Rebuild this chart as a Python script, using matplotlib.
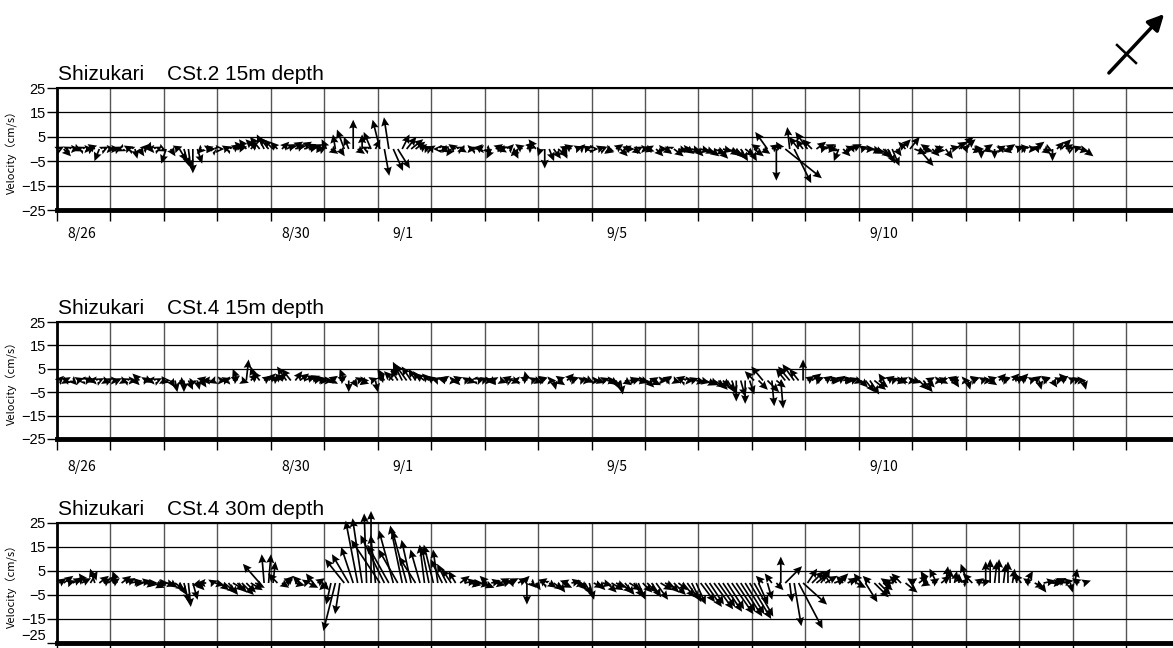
import numpy as np
import matplotlib.pyplot as plt
from matplotlib.patches import FancyArrowPatch
from matplotlib.lines import Line2D

# time axis: days since 8/26 00:00, one vector every 2 hours
T0 = 1.0 / 24
DT = 2.0 / 24

date_days = [0, 4, 6, 10, 15]
date_labels = ['8/26', '8/30', '9/1', '9/5', '9/10']

titles = ['Shizukari    CSt.2 15m depth',
          'Shizukari    CSt.4 15m depth',
          'Shizukari    CSt.4 30m depth']

# CSt.2 15m, components in cm/s (one row per day)
cst2_15m_u = [
    2, 3, -2, 3, 2, -2, 3, 2, -3, -2, 2, 3,
    3, 2, -2, 3, -2, 1, 2, 2, 1, -3, 2, 2,
    -2, 2, 3, 3, 2, 1, 0, 2, -2, 3, 2, 1,
    2, 3, -2, 3, 4, -3, -3, 3, -4, -4, -3, -4,
    -4, -3, 3, 4, 5, 4, 5, 5, 4, 4, 3, 2,
    -2, 3, -1, 2, -3, -2, 0, 3, 0, -2, -3, 2,
    -3, 2, -2, 4, 5, 3, 4, 5, 4, 3, 3, 2,
    -3, -2, 3, -3, -2, -3, 2, -3, 3, -2, 2, -3,
    2, -2, 3, 3, -3, 2, 2, -3, -3, 3, -2, -3,
    -1, 0, 2, 3, 4, 2, -3, -3, 3, 2, 3, -2,
    2, 3, 2, 3, -3, 3, 3, 4, -3, 3, 2, 3,
    3, -3, 3, 3, 3, -2, 4, 4, 4, 3, 4, 3,
    4, 4, 4, 5, 4, 4, 5, 4, 4, 3, 4, 3,
    4, -3, 3, -5, 3, 0, -2, 15, -1, 7, -4, -3,
    -5, -4, 4, 3, 4, 3, -2, -2, 3, 3, 4, -4,
    3, 4, 5, 4, 5, 4, 3, 3, 2, 4, -3, 4,
    5, 6, 4, -3, 3, 3, -2, 3, 4, 5, 6, 5,
    -3, 4, 3, 0, 3, -3, 0, 3, -3, 3, -4, 3,
    3, -2, 3, 4, -3, 3, 2, 0, 3, 4, 3, 2,
    3, 4, 4,
]
cst2_15m_v = [
    1, -3, 1, 0, -1, 1, 0, 1, 2, -5, 1, 0,
    0, 1, -1, 1, 1, -4, -3, 2, 3, 0, 1, -1,
    -6, -3, 1, -5, -7, -8, -10, -6, -2, 1, 0, 1,
    0, 1, 1, 2, 1, 3, 4, 3, 4, 5, 6, 5,
    4, 3, 3, 2, 3, 2, 3, 2, 1, 2, 0, 1,
    4, -2, 6, -3, 8, 5, 12, -2, 6, 1, 7, 4,
    12, -11, 13, -9, -8, 6, 5, 4, 3, 2, 1, 1,
    1, 0, 1, -1, -3, 2, 1, -1, 0, 1, 2, 0,
    -2, -4, 2, 1, -1, 2, -4, -3, 2, 3, 2, 4,
    -3, -8, -5, -4, -3, -4, 1, 2, 1, 2, 1, 0,
    0, 1, 1, -1, -2, 2, -3, 0, 1, -2, 1, 0,
    -1, 1, -3, 0, -2, 1, -3, -1, 0, -2, -1, -3,
    -1, -2, -3, -2, -4, -1, -2, -3, -4, -5, -3, -5,
    -3, 2, -2, 7, 2, -13, 3, -12, 9, -14, 5, 4,
    7, 4, 3, 1, 2, 0, -1, -5, -3, 1, 2, 1,
    1, 0, -1, -2, -3, -4, -6, -7, -3, 4, 3, 5,
    -2, -7, -1, 2, -3, 1, -2, -4, 1, 3, 5, 4,
    1, -1, 0, -4, 2, -1, -4, 0, 1, 2, -1, 1,
    1, 2, 0, 3, 1, -2, -1, -5, 3, 4, 2, 1,
    1, -1, -3,
]

# CSt.4 15m
cst4_15m_u = [
    2, 3, -3, 2, 3, -2, 3, 2, -3, 2, 3, 2,
    3, 2, 3, -2, 3, 2, -3, 3, 2, -3, 2, 3,
    2, 2, 1, 3, 0, 2, -1, 1, 2, -4, -4, -3,
    3, 3, -3, 3, -2, 3, 1, 3, -2, -3, 3, 3,
    3, 4, -3, -4, -4, 3, 4, 5, 5, 4, 4, 3,
    3, 3, -3, 3, -2, 0, 2, 3, 3, -3, 3, 1,
    2, -3, 4, -4, -3, -4, -5, -4, -3, -3, -4, -3,
    -3, -3, 3, -4, 3, 2, -3, 3, 3, -2, 3, 3,
    3, 2, -3, 3, 3, 2, 3, -3, 3, -1, 3, 3,
    3, -3, 3, 1, 3, -3, 3, 3, -3, 3, 3, 2,
    3, 3, 3, 4, 3, 2, 1, 3, 4, 3, 4, 3,
    3, 4, -3, 3, 3, -3, 3, 3, -2, 3, 3, 4,
    4, 5, 4, 5, 4, 3, 3, 2, 0, 2, 0, 2,
    -4, 4, -5, 5, 1, 4, 1, -4, -5, -5, -4, 0,
    3, 4, 3, -3, 3, 4, 3, 3, 4, 3, 3, 3,
    3, 4, 4, 5, 4, -2, 3, 3, 4, 3, -3, 3,
    3, 4, 4, 3, -3, 3, 3, -3, 3, 2, -4, 3,
    1, 3, -3, 3, 3, 3, -3, 3, 3, -3, 3, 3,
    3, -3, 3, 3, 1, 3, -3, 2, 3, 3, -3, 3,
    3, 3, 1,
]
cst4_15m_v = [
    2, -1, 1, -2, 1, 0, 1, -1, 0, 1, -1, 1,
    0, 1, -1, 1, 0, -2, 3, 1, -1, 0, 1, -1,
    0, -3, -5, -2, -5, -4, -3, -4, -3, 1, 0, -1,
    0, 1, 0, 2, 5, -1, 9, 3, 6, 4, 2, 3,
    2, 3, 3, 6, 5, 4, 3, 2, 2, 1, 1, 0,
    0, 2, -1, 2, 5, -5, -3, 1, 0, -2, 1, -5,
    3, 5, 6, 4, 5, 8, 7, 6, 5, 4, 3, 3,
    2, 1, 2, 1, 0, -2, 2, 1, -1, 0, 1, 1,
    0, -2, 1, -1, 2, 1, -1, 0, 2, 4, 1, -1,
    1, 2, 0, -4, -2, 2, 3, 1, 2, 1, 0, -1,
    0, -1, 1, 0, -2, -4, -6, -2, 0, 1, 0, -1,
    -3, -2, 1, 0, 2, 1, -1, 2, 1, 0, 1, -1,
    -1, -2, -2, -3, -4, -3, -5, -6, -9, -7, -10, -6,
    4, -4, 6, -5, -11, -3, -12, 5, 6, 7, 5, 9,
    2, 3, 1, 2, 2, 1, 0, 2, 1, 0, 1, -1,
    -3, -5, -6, -4, -3, 3, 2, 1, 0, -1, 1, 0,
    -1, -4, -5, -3, 1, 0, 1, -1, 2, -3, 1, 0,
    -4, 1, 2, 1, 0, -2, 2, 3, 1, 2, 3, 2,
    3, 2, 1, 2, -4, 1, 2, -3, 1, 2, 3, 1,
    1, 0, -4,
]

# CSt.4 30m
cst4_30m_u = [
    3, 4, 3, 4, 3, 4, -3, 3, -2, 4, 3, 4,
    3, -2, 4, 4, 5, 4, 5, 5, 4, 5, 4, 3,
    4, 3, 4, 3, 2, 1, 2, 3, -4, -4, 3, 4,
    4, 5, 4, 5, 4, 5, 4, 5, 4, -7, -1, 1,
    1, -4, 3, 3, -3, 4, -3, 3, 4, -3, 3, 3,
    -3, -2, -5, -2, -8, -7, -5, -5, -4, -1, 0, -2,
    -12, -10, -9, -6, -8, -5, -6, -4, -7, -4, -2, -3,
    -4, -2, -5, -4, -4, -3, 4, 5, 5, 4, 5, 5,
    -3, 4, 4, 4, 3, 4, -3, 4, 3, 0, 2, 2,
    3, -2, 3, 4, 3, 4, -3, 4, 4, 3, 3, 2,
    4, 3, 4, 4, 5, 4, 5, 4, 5, 4, 3, 4,
    4, 4, 5, 5, 4, 4, 5, 4, 5, 5, 4, 4,
    6, 7, 6, 8, 7, 8, 7, 9, 8, 9, 8, 9,
    8, 4, -3, 2, -3, 3, 0, 7, 1, 3, 10, 10,
    4, 5, 5, 4, 5, -3, 5, 4, -3, 4, 3, 4,
    -3, 5, -3, 6, 5, 4, -3, -4, -3, -4, 5, 3,
    -3, 4, 3, -3, 3, -3, 4, 1, 0, 1, 0, 2,
    -3, -4, 3, 4, 0, 0, 1, 0, 1, 0, 1, -1,
    -3, 3, -3, 4, 3, 5, 6, 5, 4, 5, -4, 1,
    1, -3, 3,
]
cst4_30m_v = [
    2, 3, 1, 2, 3, 2, 4, 5, 6, 3, 2, 3,
    2, 5, 3, 2, 1, 0, 1, -1, 0, -2, -1, 0,
    -1, -2, -3, -5, -8, -10, -7, -3, -1, 0, 1, -1,
    -3, -4, -5, -3, -4, -5, -4, -3, -2, 8, 12, 12,
    9, 4, -2, 3, 2, -1, 3, 1, -2, 4, 2, -3,
    -3, -9, -20, -13, 10, 12, 15, 26, 27, 29, 30, 20,
    18, 20, 16, 22, 14, 24, 22, 18, 11, 14, 16, 15,
    16, 14, 10, 8, 6, 5, 3, 1, -1, 0, -1, -2,
    3, 1, -1, 2, 1, 2, 1, 2, 3, -9, -2, -3,
    2, 1, -2, -3, -4, -2, 1, 1, -1, -3, -5, -7,
    -2, -3, -1, -4, -3, -2, -4, -5, -3, -6, -7, -4,
    -4, -6, -7, -3, -2, -4, -5, -3, -6, -7, -8, -9,
    -8, -10, -9, -11, -10, -12, -11, -13, -12, -14, -13, -15,
    -14, -9, 3, -7, 4, -3, 11, 7, -8, -18, -19, -9,
    6, 5, 4, 6, 3, 5, 2, 4, 3, 2, 3, -2,
    4, -8, 3, -6, -5, -3, 2, 0, 3, 4, -4, 2,
    2, 3, -1, 5, 2, 6, 3, 7, 6, 5, 4, 2,
    8, 4, 2, 1, 9, 10, 9, 10, 8, 9, 6, 5,
    4, 5, 2, -2, -4, 1, 0, 1, 2, 1, 2, -4,
    6, 2, 1,
]

W, H = 1173, 648
XMAX = (W - 57) / 53.45
YTICK_FONT = ['Liberation Sans Narrow', 'Liberation Sans', 'DejaVu Sans']

fig = plt.figure(figsize=(W / 100, H / 100), dpi=100)

# (left, top, bottom) in pixels, date label pad in points
panels = [
    (57, 88, 210, cst2_15m_u, cst2_15m_v, titles[0], 12),
    (57, 322, 439, cst4_15m_u, cst4_15m_v, titles[1], 15),
    (57, 523, 643, cst4_30m_u, cst4_30m_v, titles[2], None),
]

for left, top, bottom, u, v, title, date_pad in panels:
    ax = fig.add_axes([left / W, 1 - bottom / H, (W - left) / W, (bottom - top) / H])
    ax.set_xlim(0, XMAX)
    ax.set_ylim(-25, 25)

    # grid
    ax.set_xticks(np.arange(0, 21))
    ax.set_xticklabels([])
    ax.set_yticks([-25, -15, -5, 5, 15, 25])
    ax.set_yticklabels(['\u221225', '\u221215', '\u22125', '5', '15', '25'],
                       family=YTICK_FONT, fontsize=10.5)
    ax.grid(axis='x', color='#555555', lw=1.0, zorder=1)
    ax.grid(axis='y', color='black', lw=0.9, zorder=1)
    ax.tick_params(axis='y', direction='out', length=7, width=1, pad=1)
    ax.tick_params(axis='x', which='major', direction='out', length=8, width=1)

    if date_pad is not None:
        ax.set_xticks([d + 0.47 for d in date_days], date_labels, minor=True)
        ax.tick_params(axis='x', which='minor', length=0, pad=date_pad, labelsize=10)
        for lab in ax.get_xticklabels(minor=True):
            lab.set_family(['Noto Sans CJK JP', 'DejaVu Sans'])
    else:
        # bottom panel runs off the page: keep its lowest label inside
        ax.get_yticklabels()[0].set_verticalalignment('bottom')

    ax.spines['right'].set_visible(False)
    ax.spines['left'].set_linewidth(2.0)
    ax.spines['top'].set_linewidth(1.5)
    ax.spines['bottom'].set_linewidth(3.5)

    ax.set_ylabel('Velocity（cm/s）', family=['Noto Sans CJK JP', 'DejaVu Sans'],
                  fontsize=8, labelpad=2)

    ax.annotate(title, xy=(0, 1), xycoords='axes fraction', xytext=(1, 8),
                textcoords='offset pixels', ha='left', va='baseline',
                fontsize=15, family=['Liberation Sans', 'DejaVu Sans'])

    # stick vectors, same pixel scale for both components
    t = T0 + DT * np.arange(len(u))
    k = ((bottom - top) / 50.0) / ((W - left) / XMAX)
    ax.quiver(t, np.zeros(len(t)), np.array(u) * k, np.array(v),
              angles='xy', scale_units='xy', scale=1, units='dots',
              width=1.7, headwidth=4.8, headlength=5.2, headaxislength=4.6,
              minshaft=0.3, minlength=0.5,
              color='black', clip_on=False, zorder=3)

# orientation arrow in the top-right corner
fig.add_artist(FancyArrowPatch((1107 / W, 1 - 75 / H), (1166 / W, 1 - 12 / H),
                               transform=fig.transFigure, arrowstyle='-|>',
                               mutation_scale=24, lw=2.5, color='black'))
fig.add_artist(Line2D([1117 / W, 1136 / W], [1 - 45 / H, 1 - 63 / H],
                      transform=fig.transFigure, color='black', lw=1.8))

fig.savefig('out.png', dpi=100)
